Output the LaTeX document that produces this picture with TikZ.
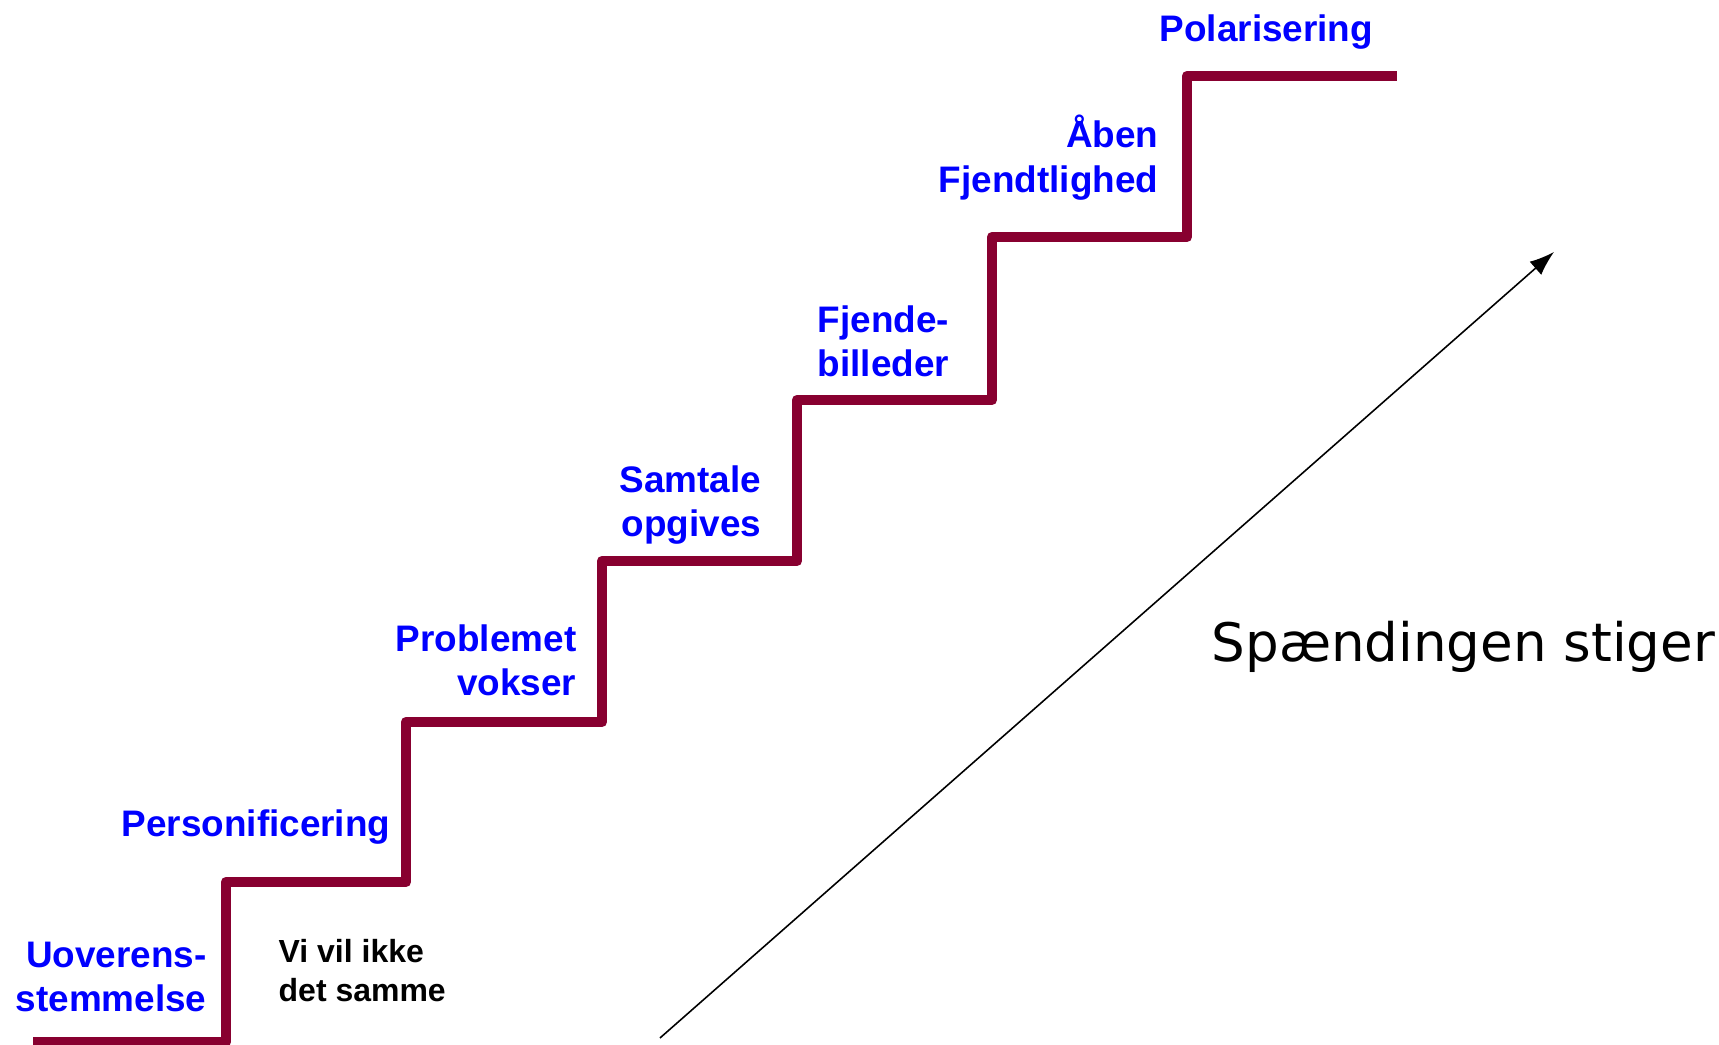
\documentclass[tikz,border=0pt]{standalone}
\usepackage{fontspec}
\setmainfont{Liberation Sans}
\newfontfamily\spaendfont{DejaVu Sans}
\usepackage{xcolor}
\usepackage{tikz}
\usetikzlibrary{arrows.meta}

\definecolor{trappe}{RGB}{136,0,48}

\tikzset{
	trin/.style={text=blue, inner sep=0pt, font=\bfseries\fontsize{10.5}{12.8}\selectfont},
	note/.style={text=black, inner sep=0pt, font=\bfseries\fontsize{9.1}{11.1}\selectfont}
}

\begin{document}
\begin{tikzpicture}
		\useasboundingbox (0,0) rectangle (17.19,10.45);

		\draw [trappe, line width=3pt, line join=round]
			(0.33,0.03) -- (2.26,0.03) -- (2.26,1.63) -- (4.06,1.63) -- (4.06,3.23)
			-- (6.02,3.23) -- (6.02,4.84) -- (7.97,4.84) -- (7.97,6.45)
			-- (9.92,6.45) -- (9.92,8.08) -- (11.87,8.08) -- (11.87,9.69) -- (13.97,9.69);

		\node [trin, anchor=base west, align=right] (uoverens) at (0.15,0.33) {Uoverens-\\stemmelse};
		\node [note, anchor=base west, align=left] (vivil) at (2.78,0.43) {Vi vil ikke\\det samme};
		\node [trin, anchor=base east] (person) at (3.91,2.08) {Personificering};
		\node [trin, anchor=base east, align=right] (problem) at (5.77,3.49) {Problemet\\vokser};
		\node [trin, anchor=base east, align=right] (samtale) at (7.62,5.08) {Samtale\\opgives};
		\node [trin, anchor=base west, align=left] (fjendebill) at (8.17,6.68) {Fjende-\\billeder};
		\node [trin, anchor=base east, align=right] (aaben) at (11.59,8.52) {Åben\\Fjendtlighed};
		\node [trin, anchor=base west] (polar) at (11.59,10.03) {Polarisering};

		\coordinate (hale) at (6.60,0.07);
		\coordinate (spids) at (15.54,7.93);
		\draw [line width=0.45pt, -{Latex[length=7pt, width=5pt]}] (hale) -- (spids);

		\node [anchor=base west, inner sep=0pt, font=\spaendfont\fontsize{15.1}{18}\selectfont] (spaend) at (12.11,3.83) {Spændingen stiger};
	\end{tikzpicture}
\end{document}
